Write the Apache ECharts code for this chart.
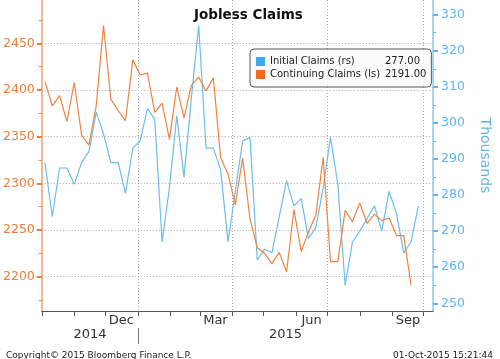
<!DOCTYPE html>
<html>
<head>
<meta charset="utf-8">
<script src="https://cdn.jsdelivr.net/npm/echarts@6/dist/echarts.min.js"></script>
<style>html,body{margin:0;padding:0;background:#fff}#c{width:500px;height:359px}</style>
</head>
<body>
<div id="c"></div>
<script>
const weekDates = ['2014-10-04','2014-10-11','2014-10-18','2014-10-25','2014-11-01','2014-11-08','2014-11-15','2014-11-22','2014-11-29','2014-12-06','2014-12-13','2014-12-20','2014-12-27','2015-01-03','2015-01-10','2015-01-17','2015-01-24','2015-01-31','2015-02-07','2015-02-14','2015-02-21','2015-02-28','2015-03-07','2015-03-14','2015-03-21','2015-03-28','2015-04-04','2015-04-11','2015-04-18','2015-04-25','2015-05-02','2015-05-09','2015-05-16','2015-05-23','2015-05-30','2015-06-06','2015-06-13','2015-06-20','2015-06-27','2015-07-04','2015-07-11','2015-07-18','2015-07-25','2015-08-01','2015-08-08','2015-08-15','2015-08-22','2015-08-29','2015-09-05','2015-09-12','2015-09-19','2015-09-26'];
const initialClaims = [289,274,287.5,287.5,283,289,292,303,297,289,289,280.5,293,295,304,301,267,282,302,285,307,327,293,293,287,267,281,295,296,262,265,264,274,284,277,279,268,271,282,296,283,255,267,270,273.5,277,270,281,275,264,267,277];
const continuingClaims = [2409,2383,2394,2366,2408,2352,2341,2383,2469,2390,2378,2367,2432,2416,2418,2376,2386,2347,2403,2370,2405,2414,2399,2413,2327,2310,2277,2327,2262,2231,2225,2214,2226,2205,2272,2227,2248,2266,2328,2216,2216,2271,2259,2279,2257,2267,2260,2263,2244,2244,2191];
const leftTicks = [2200,2250,2300,2350,2400,2450];
const leftMinorTicks = [2175,2225,2275,2325,2375,2425,2475];
const rightTicks = [250,260,270,280,290,300,310,320,330];
const rightMinorTicks = [255,265,275,285,295,305,315,325];
const monthTickDates = ['2014-10-01','2014-11-01','2014-12-01','2015-01-01','2015-02-01','2015-03-01','2015-04-01','2015-05-01','2015-06-01','2015-07-01','2015-08-01','2015-09-01','2015-10-01'];
const monthLabelDates = ['2014-12-16','2015-03-16','2015-06-16','2015-09-16'];
const monthLabels = ['Dec','Mar','Jun','Sep'];
const quarterDates = ['2015-01-01','2015-04-01','2015-07-01','2015-10-01'];
const yearLabels = ['2014','2015'];
const yearBoundary = '2015-01-01';
const seriesNames = ['Initial Claims (rs)','Continuing Claims (ls)'];

const ts = s => Date.parse(s + 'T00:00:00Z');
const xMin = ts('2014-10-01'), xMax = ts('2015-10-10');
const yb = ts(yearBoundary);
const yearLabelValues = [(xMin + yb) / 2, (yb + xMax) / 2];
const monthLabelValues = monthLabelDates.map(ts);

const ORANGE = '#ec7f37', BLUE = '#5fb6e6';
const FONT = 'DejaVu Sans';
const lastVals = {};
lastVals[seriesNames[0]] = initialClaims[initialClaims.length - 1].toFixed(2);
lastVals[seriesNames[1]] = continuingClaims[continuingClaims.length - 1].toFixed(2);

const chart = echarts.init(document.getElementById('c'), null, {renderer: 'canvas'});
const baseX = {type: 'value', min: xMin, max: xMax, gridIndex: 0, position: 'bottom'};
const option = {
  animation: false,
  title: [
    {text: 'Jobless Claims', left: 189, top: 3, textStyle: {fontFamily: FONT, fontSize: 13.5, fontWeight: 'bold', color: '#111'}},
    {text: 'Copyright\u00a9 2015 Bloomberg Finance L.P.', left: 1, top: 346, textStyle: {fontFamily: FONT, fontSize: 9, fontWeight: 'normal', color: '#222'}},
    {text: '01-Oct-2015 15:21:44', right: 2, top: 346, textStyle: {fontFamily: FONT, fontSize: 9, fontWeight: 'normal', color: '#222'}}
  ],
  grid: {left: 41, right: 56, top: 0, bottom: 48, containLabel: false},
  legend: {
    orient: 'vertical', left: 250, top: 49, padding: [7, 5, 7, 6],
    itemWidth: 9, itemHeight: 9, itemGap: 2, icon: 'rect', selectedMode: false,
    backgroundColor: 'rgba(250,250,250,0.7)', borderColor: '#555', borderWidth: 1, borderRadius: 4,
    data: [
      {name: seriesNames[0], itemStyle: {color: '#3fa9ef', borderWidth: 0}},
      {name: seriesNames[1], itemStyle: {color: '#f26a1f', borderWidth: 0}}
    ],
    formatter: name => '{a|' + name + '}{b|' + lastVals[name] + '}',
    textStyle: {fontFamily: FONT, fontSize: 10, color: '#222', lineHeight: 11,
      rich: {a: {width: 115, fontFamily: FONT, fontSize: 10, color: '#222', lineHeight: 11},
             b: {fontFamily: FONT, fontSize: 10, color: '#222', lineHeight: 11}}}
  },
  xAxis: [
    Object.assign({}, baseX, {
      axisLine: {show: true, lineStyle: {color: '#555', width: 1}},
      axisTick: {show: true, length: 5, customValues: monthTickDates.map(ts), lineStyle: {color: '#555'}},
      axisLabel: {show: true, customValues: monthLabelValues, margin: 3, fontFamily: FONT, fontSize: 13, color: '#333',
        formatter: v => { const i = monthLabelValues.indexOf(v); return i >= 0 ? monthLabels[i] : ''; }},
      splitLine: {show: false}
    }),
    Object.assign({}, baseX, {
      offset: 17,
      axisLine: {show: false},
      axisTick: {show: true, length: 16, customValues: [yb], lineStyle: {color: '#777'}},
      axisLabel: {show: true, customValues: yearLabelValues, margin: 0, fontFamily: FONT, fontSize: 13, color: '#333',
        formatter: v => { const i = yearLabelValues.indexOf(v); return i >= 0 ? yearLabels[i] : ''; }},
      splitLine: {show: false}
    }),
    Object.assign({}, baseX, {
      axisLine: {show: false},
      axisTick: {show: false, customValues: quarterDates.map(ts)},
      axisLabel: {show: false},
      splitLine: {show: true, lineStyle: {color: '#aaa', type: [1, 2], width: 1}}
    })
  ],
  yAxis: [
    {type: 'value', position: 'left', min: 2163.2, max: 2496.4,
      axisLine: {show: true, lineStyle: {color: '#f0a070', width: 1.5}},
      axisTick: {show: true, length: 5, customValues: leftTicks, lineStyle: {color: ORANGE, width: 2}},
      axisLabel: {show: true, customValues: leftTicks, margin: 7, fontFamily: FONT, fontSize: 12.5, color: ORANGE,
        formatter: v => String(v)},
      splitLine: {show: true, lineStyle: {color: '#aaa', type: [1, 2], width: 1}}},
    {type: 'value', position: 'left', min: 2163.2, max: 2496.4,
      axisLine: {show: false},
      axisTick: {show: true, length: 3, customValues: leftMinorTicks, lineStyle: {color: ORANGE, width: 1}},
      axisLabel: {show: false}, splitLine: {show: false}},
    {type: 'value', position: 'right', min: 247.87, max: 334.07,
      name: 'Thousands', nameLocation: 'middle', nameRotate: -90, nameGap: 45,
      nameTextStyle: {fontFamily: FONT, fontSize: 14, color: BLUE},
      axisLine: {show: true, lineStyle: {color: '#8fcbed', width: 1.5}},
      axisTick: {show: true, length: 5, customValues: rightTicks, lineStyle: {color: BLUE, width: 2}},
      axisLabel: {show: true, customValues: rightTicks, margin: 8, fontFamily: FONT, fontSize: 12.5, color: BLUE,
        formatter: v => String(v)},
      splitLine: {show: false}},
    {type: 'value', position: 'right', min: 247.87, max: 334.07,
      axisLine: {show: false},
      axisTick: {show: true, length: 3, customValues: rightMinorTicks, lineStyle: {color: BLUE, width: 1}},
      axisLabel: {show: false}, splitLine: {show: false}}
  ],
  series: [
    {name: seriesNames[0], type: 'line', xAxisIndex: 0, yAxisIndex: 2, showSymbol: false, symbol: 'none',
      data: initialClaims.map((v, i) => [ts(weekDates[i]), v]),
      itemStyle: {color: '#3fa9ef'}, lineStyle: {color: '#6dbde9', width: 1.2}},
    {name: seriesNames[1], type: 'line', xAxisIndex: 0, yAxisIndex: 0, showSymbol: false, symbol: 'none',
      data: continuingClaims.map((v, i) => [ts(weekDates[i]), v]),
      itemStyle: {color: '#f26a1f'}, lineStyle: {color: '#ee8443', width: 1.2}}
  ]
};
chart.setOption(option);
</script>
</body>
</html>
